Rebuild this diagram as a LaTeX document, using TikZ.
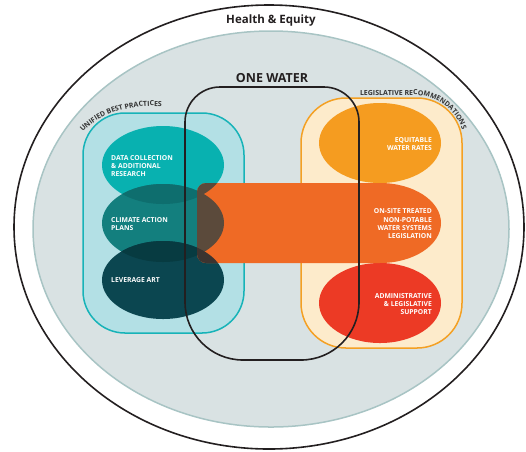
\documentclass[tikz,border=0pt]{standalone}
\usepackage{fontspec}
\setmainfont{Open Sans}
\usetikzlibrary{decorations.text}
\definecolor{grayfill}{HTML}{D9E2E3}
\definecolor{grayline}{HTML}{A8C4C4}
\definecolor{tealfill}{HTML}{B3E0E5}
\definecolor{tealline}{HTML}{17B3B8}
\definecolor{creamfill}{HTML}{FDEBCB}
\definecolor{creamline}{HTML}{F4A023}
\definecolor{cdata}{HTML}{08B1B0}
\definecolor{cclimate}{HTML}{137F7E}
\definecolor{cdc}{HTML}{0E6E6E}
\definecolor{cart}{HTML}{0B4650}
\definecolor{cca}{HTML}{073B41}
\definecolor{cbar}{HTML}{EF6A25}
\definecolor{cbrown}{HTML}{5B4A3B}
\definecolor{cbrowndark}{HTML}{3C3430}
\definecolor{cequit}{HTML}{F59C20}
\definecolor{cadmin}{HTML}{EC3A25}
\definecolor{ink}{HTML}{231F20}
\definecolor{labc}{HTML}{333333}
\tikzset{
  inner/.style={text=white, font=\bfseries\fontsize{6.8}{8.3}\selectfont, inner sep=0pt},
  outline/.style={draw=ink, line width=1.6pt},
}
\begin{document}
\begin{tikzpicture}[x=1pt,y=-1pt]
\useasboundingbox (0,0) rectangle (526,451);
% outer ellipse
\draw[outline] (269,227) ellipse [x radius=255, y radius=222];
\node[font=\bfseries\fontsize{11.5}{13}\selectfont, text=ink] (health) at (271,21) {Health \& Equity};
% gray ellipse
\draw[fill=grayfill, draw=grayline, line width=1.5pt] (271,229) ellipse [x radius=238, y radius=198];
% group boxes
\draw[fill=tealfill, draw=tealline, line width=1.5pt, rounded corners=42pt] (83,113) rectangle (244,333);
\draw[fill=creamfill, draw=creamline, line width=1.5pt, rounded corners=45pt] (301,98) rectangle (462,348);
% right ellipses
\fill[cequit] (380,143) ellipse [x radius=61, y radius=40];
\fill[cbar] (380,223) ellipse [x radius=61, y radius=40];
\fill[cadmin] (380,303) ellipse [x radius=61, y radius=40];
% left ellipses
\fill[cdata] (163,165) ellipse [x radius=61, y radius=39];
\fill[cclimate] (163,223) ellipse [x radius=61, y radius=39];
\begin{scope}
  \clip (163,165) ellipse [x radius=61, y radius=39];
  \fill[cdc] (163,223) ellipse [x radius=61, y radius=39];
\end{scope}
\fill[cart] (163,280) ellipse [x radius=61, y radius=39];
\begin{scope}
  \clip (163,223) ellipse [x radius=61, y radius=39];
  \fill[cca] (163,280) ellipse [x radius=61, y radius=39];
\end{scope}
% orange bar
\fill[cbar] (380,183) -- (206,183) arc[start angle=270, end angle=180, radius=9]
  -- (197,254) arc[start angle=180, end angle=90, radius=9] -- (380,263) -- cycle;
\begin{scope}
  \clip (380,183) -- (206,183) arc[start angle=270, end angle=180, radius=9]
  -- (197,254) arc[start angle=180, end angle=90, radius=9] -- (380,263) -- cycle;
  \fill[cbrown] (163,165) ellipse [x radius=61, y radius=39];
  \fill[cbrown] (163,223) ellipse [x radius=61, y radius=39];
  \fill[cbrowndark] (163,280) ellipse [x radius=61, y radius=39];
\end{scope}
% texts
\node[inner, anchor=west, align=left] (data) at (111,166) {DATA COLLECTION\\\& ADDITIONAL\\RESEARCH};
\node[inner, anchor=west, align=left] (climate) at (111,224) {CLIMATE ACTION\\PLANS};
\node[inner, anchor=west, align=left] (art) at (111,280) {LEVERAGE ART};
\node[inner, anchor=east, align=right] (equit) at (432,144) {EQUITABLE\\WATER RATES};
\node[inner, anchor=east, align=right] (onsite) at (432,224) {ON-SITE TREATED\\NON-POTABLE\\WATER SYSTEMS\\LEGISLATION};
\node[inner, anchor=east, align=right] (admin) at (432,304) {ADMINISTRATIVE\\\& LEGISLATIVE\\SUPPORT};
% one water outline
\draw[outline] (185,122) arc[start angle=180, end angle=270, radius=35] -- (324,87)
  arc[start angle=270, end angle=360, radius=35] -- (359,302)
  arc[start angle=0, end angle=90, radius=58] -- (243,360)
  arc[start angle=90, end angle=180, radius=58] -- cycle;
\node[font=\bfseries\fontsize{12.5}{14}\selectfont, text=ink] (onewater) at (272,78) {ONE WATER};
% curved labels
\path[decorate, decoration={text along path, text align=left,
  text={|\bfseries\fontsize{7}{8}\selectfont\color{labc}|UNIFIED BEST PRACTICES}}]
  (83,132) .. controls (98,116) and (120,107) .. (150,106) -- (190,107);
\path[decorate, decoration={text along path, text align=left,
  text={|\bfseries\fontsize{7}{8}\selectfont\color{labc}|LEGISLATIVE RECOMMENDATIONS}}]
  (360,95) -- (414,95) arc[start angle=270, end angle=360, radius=51];
\end{tikzpicture}
\end{document}
